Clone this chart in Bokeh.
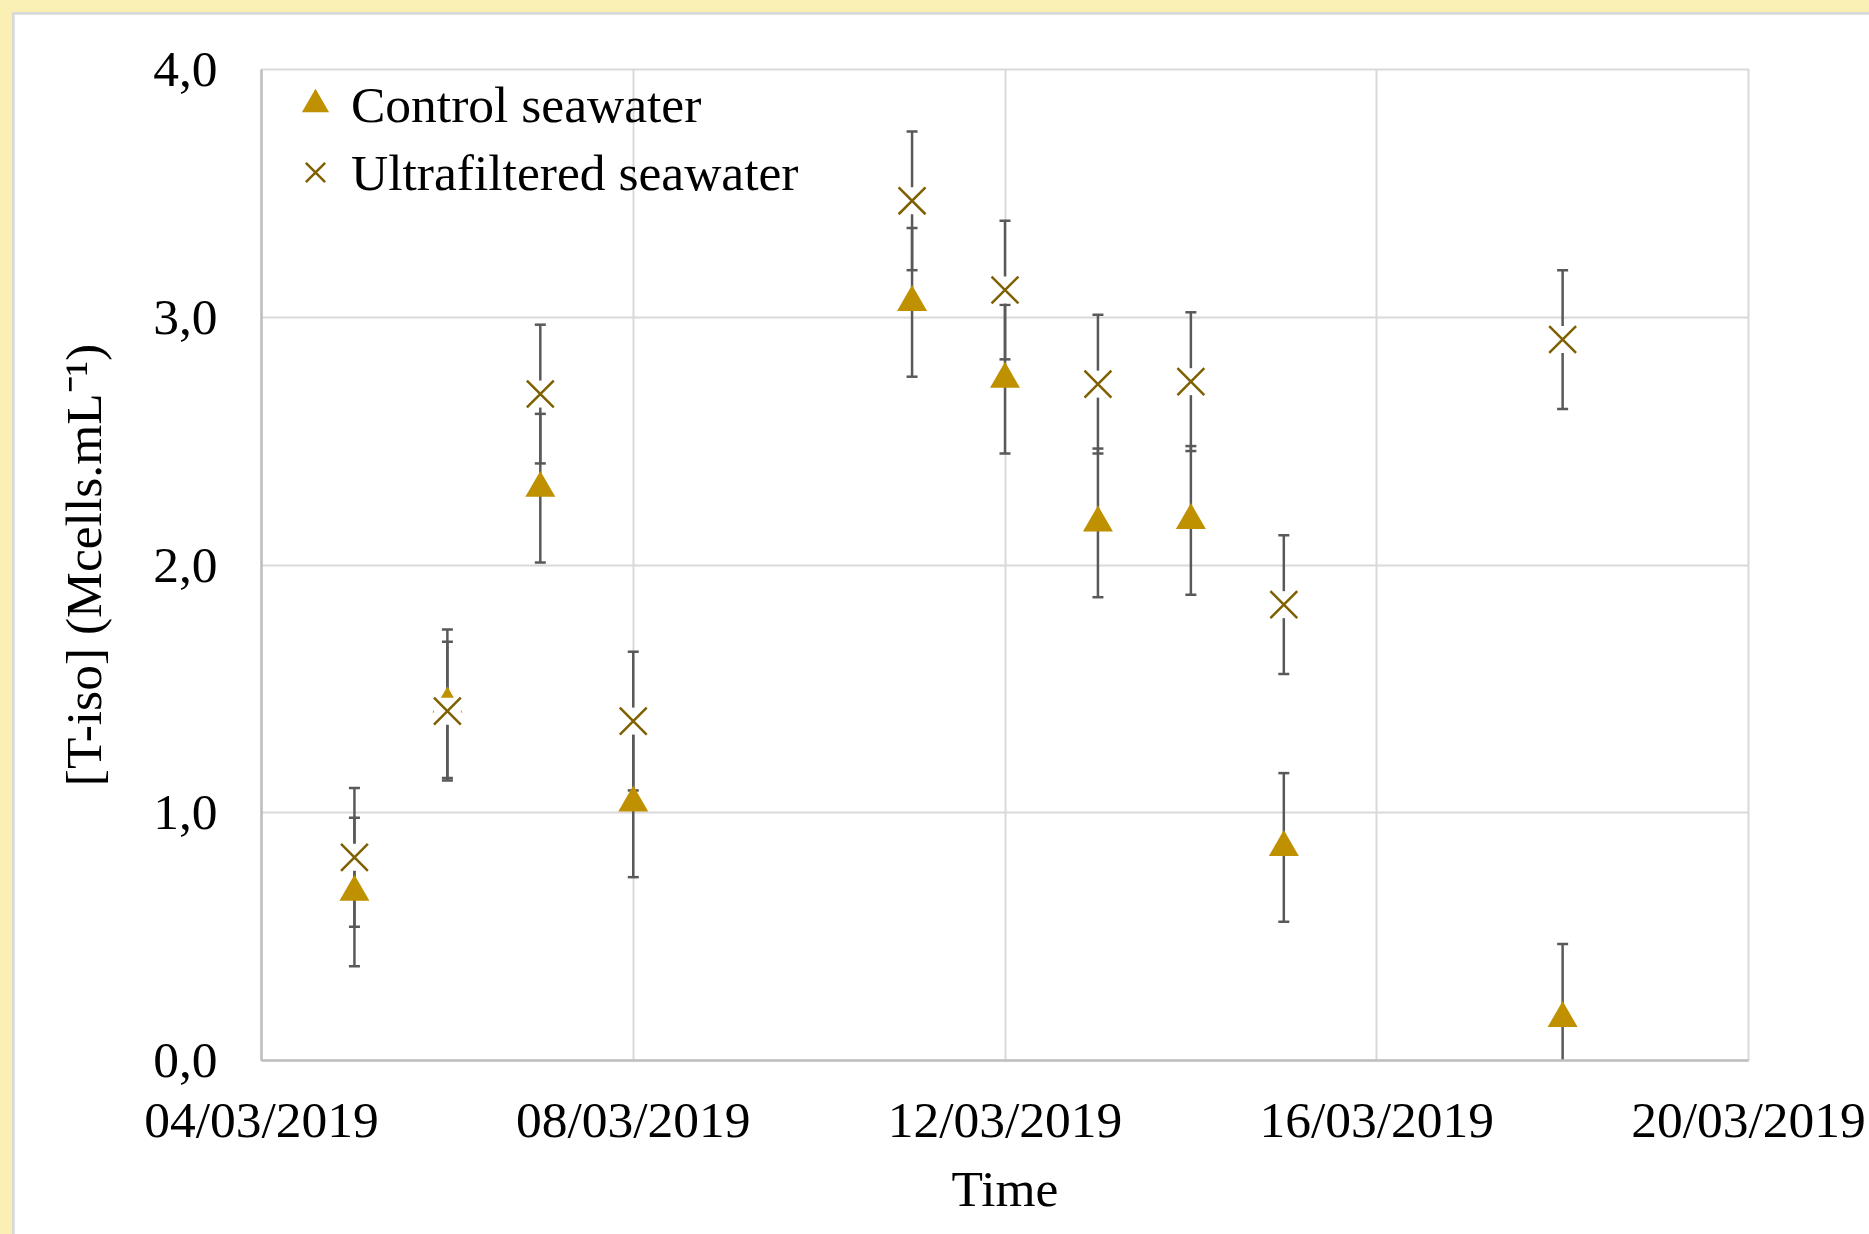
import numpy as np
import pandas as pd
from bokeh.plotting import figure
from bokeh.models import (Range1d, FixedTicker, DatetimeTickFormatter, Legend, LegendItem,
                          ColumnDataSource)
from bokeh.embed import file_html
from bokeh.resources import INLINE

# ---------------- data ----------------
dates = ["2019-03-05", "2019-03-06", "2019-03-07", "2019-03-08", "2019-03-11",
         "2019-03-12", "2019-03-13", "2019-03-14", "2019-03-15", "2019-03-18"]
control = [0.68, 1.44, 2.31, 1.04, 3.06, 2.75, 2.17, 2.18, 0.86, 0.17]
control_err = [0.30, 0.30, 0.30, 0.30, 0.30, 0.30, 0.30, 0.30, 0.30, 0.30]
ultra = [0.82, 1.41, 2.69, 1.37, 3.47, 3.11, 2.73, 2.74, 1.84, 2.91]
ultra_err = [0.28, 0.28, 0.28, 0.28, 0.28, 0.28, 0.28, 0.28, 0.28, 0.28]
x_ticks = ["2019-03-04", "2019-03-08", "2019-03-12", "2019-03-16", "2019-03-20"]
y_ticks = [0, 1, 2, 3, 4]
y_tick_labels = ["0,0", "1,0", "2,0", "3,0", "4,0"]

# ---------------- styling ----------------
FONT = "Liberation Serif"
FS = "51.5px"
TRI_COLOR = "#BF9000"
X_COLOR = "#7F6000"
ERR_COLOR = "#595959"
GRID_COLOR = "#D9D9D9"

x = pd.to_datetime(dates)
c = np.array(control); ce = np.array(control_err)
u = np.array(ultra); ue = np.array(ultra_err)

src = ColumnDataSource(dict(
    x=x, c=c, c_lo=c - ce, c_hi=c + ce,
    u=u, u_lo=u - ue, u_hi=u + ue,
))

xt = pd.to_datetime(x_ticks)
x_tick_ms = [t.value / 1e6 for t in xt]

p = figure(
    x_axis_type="datetime",
    x_range=Range1d(xt[0], xt[-1]),
    y_range=Range1d(0, 4),
    frame_width=1487, frame_height=991,
    min_border_left=247, min_border_right=121,
    min_border_top=55, min_border_bottom=174,
    output_backend="svg", toolbar_location=None,
    background_fill_color="white", border_fill_color="white",
)

p.outline_line_color = GRID_COLOR
p.outline_line_width = 2

# grid
p.xgrid.grid_line_color = GRID_COLOR
p.xgrid.grid_line_width = 2
p.ygrid.grid_line_color = GRID_COLOR
p.ygrid.grid_line_width = 2

# axes
p.xaxis.ticker = FixedTicker(ticks=x_tick_ms)
fmt = "%d/%m/%Y"
p.xaxis.formatter = DatetimeTickFormatter(days=fmt, months=fmt, years=fmt,
                                          hours=fmt, hourmin=fmt)
p.yaxis.ticker = FixedTicker(ticks=y_ticks)
p.yaxis.major_label_overrides = {t: l for t, l in zip(y_ticks, y_tick_labels)}

for ax in (p.xaxis, p.yaxis):
    ax.axis_line_color = "#BFBFBF"
    ax.axis_line_width = 2.5
    ax.major_tick_in = 0
    ax.major_tick_out = 0
    ax.minor_tick_in = 0
    ax.minor_tick_out = 0
    ax.major_label_text_font = FONT
    ax.major_label_text_font_size = FS
    ax.major_label_text_color = "black"
    ax.axis_label_text_font = FONT
    ax.axis_label_text_font_size = FS
    ax.axis_label_text_font_style = "normal"
    ax.axis_label_text_color = "black"

p.xaxis.axis_label = "Time"
p.yaxis.axis_label = "[T-iso] (Mcells.mL\u207b\u00b9)"
p.xaxis.major_label_standoff = 30
p.xaxis.axis_label_standoff = 9
p.yaxis.major_label_standoff = 44
p.yaxis.axis_label_standoff = 38

# error bars (drawn first, clipped to frame)
p.segment(x0="x", y0="c_lo", x1="x", y1="c_hi", source=src, line_color=ERR_COLOR, line_width=2.5)
p.segment(x0="x", y0="u_lo", x1="x", y1="u_hi", source=src, line_color=ERR_COLOR, line_width=2.5)
for col in ("c_lo", "c_hi", "u_lo", "u_hi"):
    p.scatter(x="x", y=col, source=src, marker="dash", size=11,
              line_color=ERR_COLOR, line_width=2.5)

# markers
r_tri = p.scatter(x="x", y="c", source=src, marker="triangle", size=30,
                  fill_color=TRI_COLOR, line_color=None)
# white marker background behind the crosses (as in the original)
p.scatter(x="x", y="u", source=src, marker="square", size=27, fill_color="white", line_color=None)
r_x = p.scatter(x="x", y="u", source=src, marker="x", size=38, line_color=X_COLOR, line_width=2.5)

legend = Legend(items=[LegendItem(label="Control seawater", renderers=[r_tri]),
                       LegendItem(label="Ultrafiltered seawater", renderers=[r_x])],
                location=(18, 854), margin=0, padding=0, spacing=0,
                glyph_width=72, glyph_height=68, label_standoff=0,
                label_text_font=FONT, label_text_font_size=FS, label_text_color="black",
                border_line_alpha=0, background_fill_alpha=0)
p.add_layout(legend)

html = file_html(p, INLINE)
css = ("<style>html{background-color:#FAF0B4 !important; overflow:hidden !important;}"
       " body{margin:12px 0 0 12px !important; padding:2px 0 0 2px !important;"
       " background-color:#D9D9D9 !important; height:auto !important; overflow:hidden !important;}</style>")
html = html.replace("</head>", css + "</head>", 1)
open("out.html", "w").write(html)
